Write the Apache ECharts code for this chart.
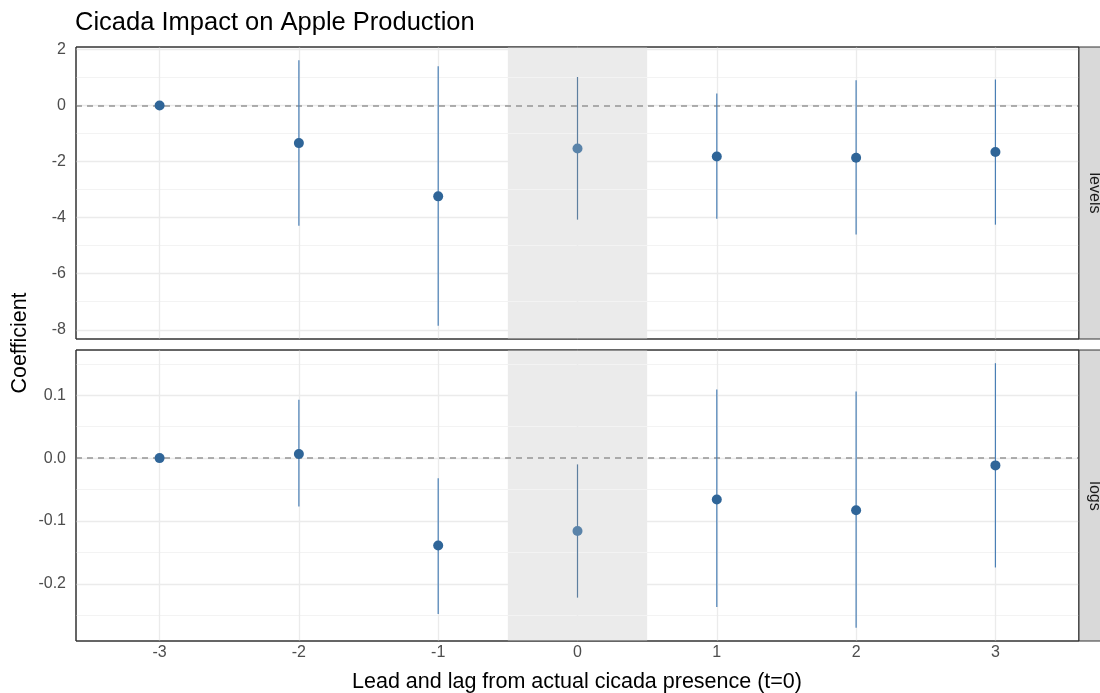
<!DOCTYPE html>
<html>
<head>
<meta charset="utf-8">
<script src="https://cdn.jsdelivr.net/npm/echarts@6/dist/echarts.min.js"></script>
<style>
  html, body { margin: 0; padding: 0; background: #fff; }
  #chart { width: 1100px; height: 693px; }
</style>
</head>
<body>
<div id="chart"></div>
<script>
// data
const leads = [-3, -2, -1, 0, 1, 2, 3];

const levelsEst = [0, -1.34, -3.24, -1.53, -1.82, -1.86, -1.66];
const levelsLo  = [0, -4.29, -7.86, -4.07, -4.04, -4.60, -4.25];
const levelsHi  = [0, 1.62, 1.40, 1.02, 0.43, 0.90, 0.93];

const logsEst = [0, 0.0064, -0.139, -0.116, -0.066, -0.083, -0.0116];
const logsLo  = [0, -0.077, -0.248, -0.222, -0.237, -0.270, -0.174];
const logsHi  = [0, 0.093, -0.032, -0.010, 0.109, 0.106, 0.151];

const leadTicks = [-3, -2, -1, 0, 1, 2, 3];
const levelsTicks = [-8, -6, -4, -2, 0, 2];
const levelsMinor = [-7, -5, -3, -1, 1];
const logsTicks = [-0.2, -0.1, 0, 0.1];
const logsMinor = [-0.25, -0.15, -0.05, 0.05, 0.15];
const treatBand = [-0.5, 0.5];

const panels = ['levels', 'logs'];

{
    const chart = echarts.init(document.getElementById('chart'));
    const FONT = 'Liberation Sans, Arial, sans-serif';

    const dotColor = i => leads[i] === 0 ? '#5a83a9' : '#2f6598';
    const barColor = i => leads[i] === 0 ? '#5d7f9f' : '#4a7fb5';

    function gridLines(major, minor) {
        const d = [];
        minor.forEach(v => d.push({ yAxis: v, lineStyle: { color: '#f3f3f3', width: 1, type: 'solid' } }));
        major.forEach(v => d.push({ yAxis: v, lineStyle: { color: '#ebebeb', width: 1.3, type: 'solid' } }));
        leadTicks.forEach(v => d.push({ xAxis: v, lineStyle: { color: '#ebebeb', width: 1.3, type: 'solid' } }));
        return d;
    }

    function panelSeries(g, est, lo, hi, major, minor) {
        return [
            {
                type: 'line', xAxisIndex: g, yAxisIndex: g, data: [], z: 1, silent: true,
                markArea: {
                    silent: true, z: 1,
                    itemStyle: { color: '#ebebeb' },
                    label: { show: false },
                    data: [[{ xAxis: treatBand[0] }, { xAxis: treatBand[1] }]]
                }
            },
            {
                type: 'line', xAxisIndex: g, yAxisIndex: g, data: [], z: 2, silent: true,
                markLine: {
                    silent: true, z: 2, symbol: ['none', 'none'], animation: false,
                    label: { show: false },
                    data: gridLines(major, minor)
                }
            },
            {
                type: 'line', xAxisIndex: g, yAxisIndex: g, data: [], z: 3, silent: true,
                markLine: {
                    silent: true, z: 3, symbol: ['none', 'none'], animation: false,
                    label: { show: false },
                    lineStyle: { color: '#959595', width: 1.5, type: [6, 5] },
                    data: [{ yAxis: 0 }]
                }
            },
            {
                type: 'custom', xAxisIndex: g, yAxisIndex: g, z: 4, silent: true,
                encode: { x: 0, y: [1, 2] },
                data: leads.map((x, i) => [x, lo[i], hi[i], i]),
                renderItem: function (params, api) {
                    const a = api.coord([api.value(0), api.value(1)]);
                    const b = api.coord([api.value(0), api.value(2)]);
                    return {
                        type: 'line',
                        shape: { x1: a[0], y1: a[1], x2: b[0], y2: b[1] },
                        style: { stroke: barColor(api.value(3)), lineWidth: 1.2 }
                    };
                }
            },
            {
                type: 'scatter', xAxisIndex: g, yAxisIndex: g, z: 5, silent: true,
                symbolSize: 10,
                data: leads.map((x, i) => [x, est[i]]),
                itemStyle: { color: p => dotColor(p.dataIndex), opacity: 1 }
            }
        ];
    }

    const xBase = {
        type: 'value', min: -3.6, max: 3.6,
        axisLine: { show: false },
        splitLine: { show: false }
    };

    const yBase = {
        type: 'value',
        axisLine: { show: false },
        splitLine: { show: false },
        axisTick: { show: true, length: 4, lineStyle: { color: '#333', width: 1 } }
    };

    const tickText = { fontFamily: FONT, fontSize: 16, color: '#4d4d4d' };

    const option = {
        animation: false,
        backgroundColor: '#fff',
        grid: [
            { left: 76, width: 1003, top: 47, height: 292, show: true, backgroundColor: '#fff', borderColor: '#333', borderWidth: 1 },
            { left: 76, width: 1003, top: 350, height: 291, show: true, backgroundColor: '#fff', borderColor: '#333', borderWidth: 1 }
        ],
        xAxis: [
            Object.assign({}, xBase, {
                gridIndex: 0,
                axisTick: { show: false },
                axisLabel: { show: false }
            }),
            Object.assign({}, xBase, {
                gridIndex: 1,
                axisTick: { show: true, length: 4, customValues: leadTicks, lineStyle: { color: '#333', width: 1 } },
                axisLabel: Object.assign({
                    show: true, customValues: leadTicks, margin: 4,
                    formatter: v => String(v)
                }, tickText)
            })
        ],
        yAxis: [
            Object.assign({}, yBase, {
                gridIndex: 0, min: -8.33, max: 2.09,
                axisTick: Object.assign({}, yBase.axisTick, { customValues: levelsTicks }),
                axisLabel: Object.assign({
                    customValues: levelsTicks, margin: 10,
                    formatter: v => String(v)
                }, tickText)
            }),
            Object.assign({}, yBase, {
                gridIndex: 1, min: -0.291, max: 0.172,
                axisTick: Object.assign({}, yBase.axisTick, { customValues: logsTicks }),
                axisLabel: Object.assign({
                    customValues: logsTicks, margin: 10,
                    formatter: v => v.toFixed(1)
                }, tickText)
            })
        ],
        graphic: [
            {
                type: 'text', x: 75, y: 23, z: 100,
                style: { text: 'Cicada Impact on Apple Production', fontFamily: FONT, fontSize: 25.5, fill: '#000', align: 'left', verticalAlign: 'middle' }
            },
            {
                type: 'text', x: 20, y: 343, rotation: Math.PI / 2, z: 100,
                style: { text: 'Coefficient', fontFamily: FONT, fontSize: 21.5, fill: '#000', align: 'center', verticalAlign: 'middle' }
            },
            {
                type: 'text', x: 577, y: 682, z: 100,
                style: { text: 'Lead and lag from actual cicada presence (t=0)', fontFamily: FONT, fontSize: 21.5, fill: '#000', align: 'center', verticalAlign: 'middle' }
            },
            {
                type: 'rect', z: 100, shape: { x: 76, y: 47, width: 1003, height: 292 },
                style: { fill: null, stroke: '#333', lineWidth: 1 }
            },
            {
                type: 'rect', z: 100, shape: { x: 76, y: 350, width: 1003, height: 291 },
                style: { fill: null, stroke: '#333', lineWidth: 1 }
            },
            {
                type: 'rect', z: 100, shape: { x: 1079, y: 47, width: 40, height: 292 },
                style: { fill: '#d9d9d9', stroke: '#333', lineWidth: 1 }
            },
            {
                type: 'rect', z: 100, shape: { x: 1079, y: 350, width: 40, height: 291 },
                style: { fill: '#d9d9d9', stroke: '#333', lineWidth: 1 }
            },
            {
                type: 'text', x: 1094, y: 193, rotation: -Math.PI / 2, z: 101,
                style: { text: panels[0], fontFamily: FONT, fontSize: 16, fill: '#1a1a1a', align: 'center', verticalAlign: 'middle' }
            },
            {
                type: 'text', x: 1094, y: 496, rotation: -Math.PI / 2, z: 101,
                style: { text: panels[1], fontFamily: FONT, fontSize: 16, fill: '#1a1a1a', align: 'center', verticalAlign: 'middle' }
            }
        ],
        series: [].concat(
            panelSeries(0, levelsEst, levelsLo, levelsHi, levelsTicks, levelsMinor),
            panelSeries(1, logsEst, logsLo, logsHi, logsTicks, logsMinor)
        )
    };

    chart.setOption(option);
    window.addEventListener('resize', function () {
        chart.resize();
    });
}
</script>
</body>
</html>
